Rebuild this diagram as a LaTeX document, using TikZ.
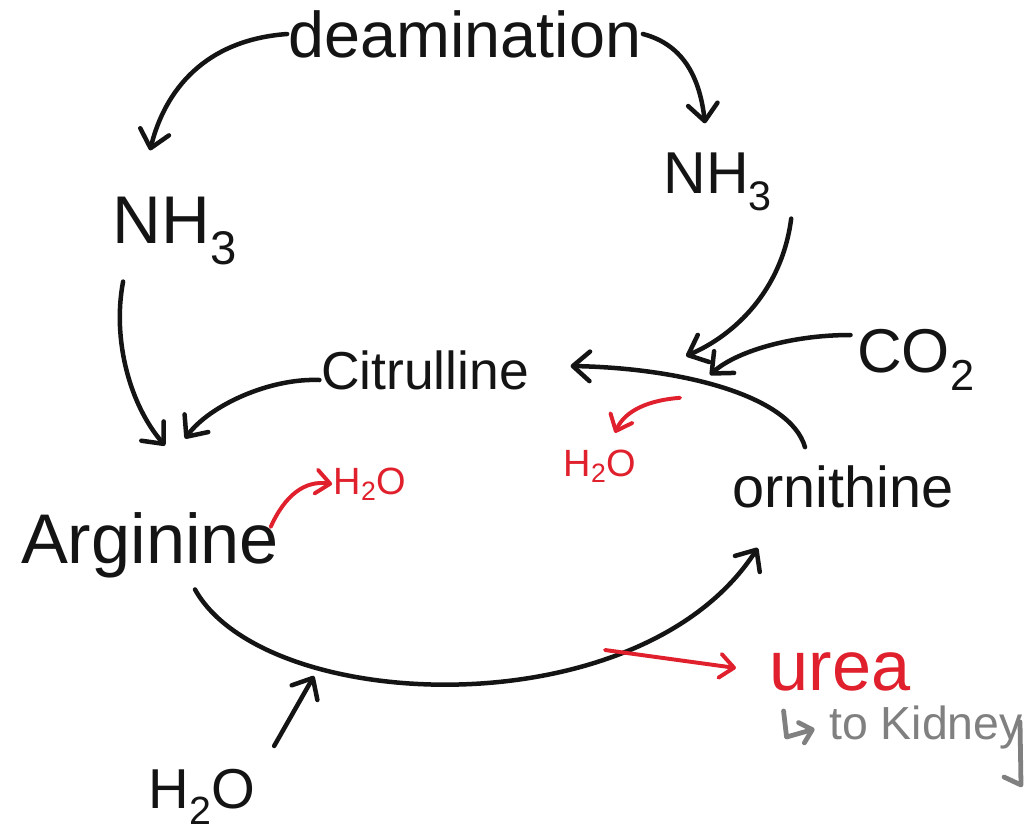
\documentclass[tikz,border=0pt]{standalone}
\usepackage{fontspec}
\setmainfont{Liberation Sans}
\usetikzlibrary{arrows.meta,calc}
\definecolor{Ink}{HTML}{141414}
\definecolor{Marker}{HTML}{E0202C}
\definecolor{Pencil}{HTML}{808080}
\newcommand{\fsz}[1]{\fontsize{#1}{#1}\selectfont}
\tikzset{
  chem/.style={inner sep=1pt,text=Ink},
  flow/.style={draw=Ink,line width=3.2pt,line cap=round,line join=round,-{Straight Barb[length=12pt,width=21pt,round]}},
  redflow/.style={flow,draw=Marker,line width=2.8pt,-{Straight Barb[length=10pt,width=17pt,round]}},
  greyflow/.style={flow,draw=Pencil,line width=3.4pt,-{Straight Barb[length=8pt,width=15pt,round]}}
}
\begin{document}
\begin{tikzpicture}[x=0.025cm,y=-0.025cm]
        \useasboundingbox[fill=white] (0,0) rectangle (1034,836);
        \node[chem,font=\fsz{46}] (deam) at (465,34) {deamination};
        \node[chem,font=\fsz{48}] (nhL) at (175,231) {NH\textsubscript{3}};
        \node[chem,font=\fsz{42}] (nhR) at (718,182) {NH\textsubscript{3}};
        \node[chem,font=\fsz{38}] (cit) at (425,370) {Citrulline};
        \node[chem,font=\fsz{44}] (co2) at (916,360) {CO\textsubscript{2}};
        \node[chem,font=\fsz{50}] (arg) at (150,545) {Arginine};
        \node[chem,font=\fsz{41}] (orn) at (843,487) {ornithine};
        \node[chem,font=\fsz{40}] (h2oB) at (202,797) {H\textsubscript{2}O};
        \node[chem,text=Marker,font=\fsz{27}] (h2oA) at (370,484) {H\textsubscript{2}O};
        \node[chem,text=Marker,font=\fsz{27}] (h2oM) at (600,466) {H\textsubscript{2}O};
        \node[chem,text=Marker,font=\fsz{50}] (urea) at (840,672) {urea};
        \node[chem,text=Pencil,font=\fsz{33}] (kid) at (926,727) {to Kidney};
        \coordinate (join) at (700,362);
        \coordinate (ureaout) at (605,650);
        \coordinate (waterin) at (314,676);
        \draw[flow] (deam.west) .. controls (205,40) and (165,90) .. ($(nhL.north)+(-25,-45)$);
        \draw[flow] (deam.east) .. controls (685,45) and (700,80) .. ($(nhR.north)+(-13,-28)$);
        \draw[flow] ($(nhL.south west)+(12,15)$) .. controls (112,340) and (130,405) .. ($(arg.north)+(15,-65)$);
        \draw[flow] ($(nhR.south east)+(17,6)$) .. controls (782,290) and (735,335) .. ($(join)+(-14,-6)$);
        \draw[flow] ($(co2.west)+(-5,-25)$) .. controls (790,335) and (735,352) .. ($(join)+(10,13)$);
        \draw[flow] ($(cit.west)+(0,10)$) .. controls (270,378) and (210,405) .. ($(arg.north)+(35,-72)$);
        \draw[flow] ($(orn.north)+(-38,-17)$) .. controls (790,395) and (680,368) .. ($(cit.east)+(40,-4)$);
        \draw[flow] ($(arg.south)+(45,10)$) .. controls (265,715) and (640,730) .. ($(orn.south west)+(27,38)$);
        \draw[flow] ($(h2oB.north east)+(17,-22)$) -- (waterin);
        \draw[redflow] ($(h2oM.north)+(80,-50)$) .. controls (650,400) and (625,410) .. ($(h2oM.north)+(15,-15)$);
        \draw[redflow] ($(arg.east)+(-10,-18)$) .. controls (285,495) and (305,480) .. (h2oA.west);
        \draw[redflow] (ureaout) -- ($(urea.west)+(-32,-4)$);
        \draw[greyflow] ($(kid.west)+(-44,-16)$) -- ++(3,26) -- ++(28,-8);
        \draw[draw=Pencil,line width=3.4pt,line cap=round,line join=round] (1020,722) -- (1021,785) -- (1004,777);
      \end{tikzpicture}
\end{document}
